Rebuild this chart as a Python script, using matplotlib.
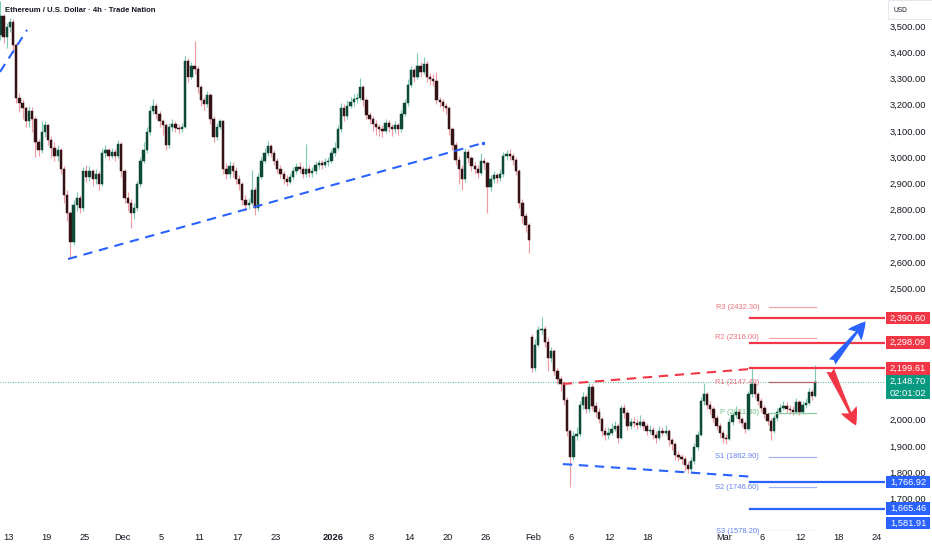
import matplotlib
matplotlib.use("Agg")
import matplotlib.pyplot as plt
from matplotlib.patches import Rectangle
from matplotlib.transforms import blended_transform_factory

plt.rcParams['font.family'] = ['Liberation Sans', 'DejaVu Sans']

# ---------------- data ----------------
title = "Ethereum / U.S. Dollar · 4h · Trade Nation"

# candles (8h-ish sampling of the 4h chart), open = previous close except at gaps
first_open = 3470
gap_index = 167          # weekend gap before Feb
gap_open = 2320

closes = [
    3540, 3460, 3500, 3520, 3430, 3230, 3210, 3190, 3140, 3180,
    3150, 3060, 3030, 3100, 3125, 3070, 3040, 3010, 3030, 2960,
    2860, 2790, 2680, 2820, 2850, 2810, 2950, 2930, 2950, 2920,
    2940, 2900, 3020, 3030, 3010, 3025, 3010, 3055, 2950, 2850,
    2830, 2790, 2810, 2900, 2990, 3030, 3100, 3180, 3200, 3170,
    3140, 3125, 3050, 3120, 3130, 3115, 3110, 3120, 3370, 3310,
    3350, 3340, 3270, 3220, 3205, 3240, 3150, 3080, 3120, 3140,
    2960, 2940, 2970, 2950, 2920, 2900, 2840, 2820, 2830, 2880,
    2810, 2930, 2990, 3020, 3045, 3020, 2990, 2960, 2940, 2920,
    2910, 2930, 2950, 2965, 2960, 2940, 2960, 2945, 2950, 2975,
    2980, 2975, 2985, 2990, 3020, 3040, 3110, 3190, 3160, 3200,
    3215, 3225, 3230, 3270, 3220, 3165, 3150, 3130, 3120, 3110,
    3105, 3135, 3120, 3110, 3125, 3110, 3170, 3210, 3280, 3335,
    3310, 3350, 3330, 3360, 3310, 3300, 3295, 3220, 3215, 3200,
    3190, 3110, 3050, 2995, 2960, 2920, 3025, 3000, 2970, 2960,
    2945, 2990, 2980, 2890, 2920, 2935, 2925, 2940, 3010, 3015,
    3010, 2995, 2950, 2830, 2780, 2745, 2690,
    2200, 2290, 2345,
    2350, 2300, 2240, 2265, 2190, 2160, 2140, 2080, 1960, 1860,
    1940, 1950, 2060, 2090, 2045, 2130, 2055, 2035, 2005, 1960,
    1945, 1955, 1970, 1980, 1935, 2050, 2030, 1980, 1995, 1990,
    1985, 1995, 1980, 1960, 1965, 1945, 1935, 1960, 1955, 1962,
    1925, 1910, 1870, 1860, 1855, 1830, 1815, 1845, 1900, 1945,
    2075, 2100, 2060, 2045, 2010, 1980, 1955, 1935, 1930, 1995,
    2020, 2035, 2005, 1990, 1970, 2100, 2140, 2100, 2075, 2050,
    2025, 2000, 1960, 2010, 2035, 2050, 2058, 2045, 2040, 2032,
    2070, 2035, 2060, 2068, 2110, 2095, 2148.70,
]
highs = [
    3600, 3550, 3515, 3535, 3530, 3440, 3250, 3225, 3200, 3200,
    3195, 3160, 3075, 3140, 3140, 3130, 3085, 3060, 3050, 3040,
    2970, 2880, 2800, 2840, 2870, 2860, 2965, 2975, 2970, 2960,
    2960, 2950, 3040, 3050, 3040, 3040, 3035, 3070, 3060, 2960,
    2870, 2845, 2830, 2915, 3005, 3060, 3120, 3200, 3225, 3210,
    3180, 3150, 3135, 3135, 3150, 3140, 3130, 3135, 3390, 3380,
    3365, 3445, 3350, 3280, 3235, 3255, 3250, 3160, 3135, 3150,
    3145, 2980, 2990, 2985, 2965, 2935, 2910, 2860, 2850, 2955,
    2890, 2945, 3005, 3040, 3065, 3055, 3030, 3000, 2975, 2950,
    2935, 2945, 2965, 2980, 2985, 2970, 3055, 2975, 2965, 2990,
    2995, 2995, 3000, 3005, 3035, 3060, 3125, 3210, 3205, 3220,
    3235, 3245, 3250, 3305, 3280, 3230, 3175, 3160, 3145, 3130,
    3125, 3150, 3145, 3130, 3140, 3135, 3185, 3225, 3300, 3350,
    3345, 3400, 3365, 3385, 3370, 3325, 3320, 3330, 3235, 3225,
    3210, 3200, 3120, 3060, 3010, 2975, 3040, 3035, 3010, 2985,
    2975, 3020, 3000, 2990, 2935, 2950, 2945, 2960, 3025, 3030,
    3035, 3020, 3005, 2960, 2845, 2790, 2755,
    2330, 2310, 2360,
    2395, 2360, 2320, 2280, 2275, 2200, 2170, 2150, 2090, 1970,
    1960, 1975, 2075, 2110, 2100, 2145, 2140, 2070, 2050, 2015,
    1975, 1975, 1990, 2000, 1990, 2060, 2065, 2040, 2010, 2015,
    2005, 2020, 2005, 1990, 1985, 1975, 1960, 1980, 1975, 1985,
    1970, 1935, 1920, 1885, 1875, 1865, 1845, 1860, 1915, 1960,
    2090, 2145, 2110, 2075, 2055, 2020, 1990, 1965, 1950, 2010,
    2035, 2055, 2045, 2015, 2000, 2115, 2200, 2150, 2110, 2085,
    2060, 2035, 2010, 2020, 2050, 2065, 2075, 2070, 2060, 2055,
    2085, 2080, 2075, 2085, 2125, 2120, 2212,
]
lows = [
    3450, 3440, 3420, 3480, 3400, 3210, 3175, 3150, 3120, 3120,
    3100, 3005, 3010, 3020, 3080, 3050, 3000, 2990, 2990, 2940,
    2830, 2760, 2620, 2670, 2800, 2790, 2800, 2910, 2915, 2895,
    2900, 2880, 2895, 3000, 2995, 3000, 2990, 3000, 2930, 2830,
    2800, 2735, 2770, 2800, 2890, 2980, 3020, 3090, 3170, 3150,
    3120, 3090, 3030, 3040, 3105, 3100, 3095, 3100, 3115, 3290,
    3300, 3320, 3250, 3200, 3185, 3195, 3130, 3060, 3070, 3110,
    2940, 2920, 2925, 2930, 2900, 2880, 2820, 2800, 2805, 2820,
    2785, 2800, 2920, 2980, 3010, 3005, 2975, 2945, 2925, 2900,
    2895, 2900, 2920, 2940, 2945, 2925, 2930, 2930, 2930, 2940,
    2960, 2960, 2965, 2970, 2980, 3010, 3030, 3100, 3140, 3150,
    3190, 3200, 3210, 3220, 3200, 3150, 3130, 3105, 3090, 3085,
    3080, 3095, 3100, 3085, 3095, 3090, 3100, 3160, 3200, 3270,
    3290, 3300, 3310, 3320, 3290, 3280, 3275, 3205, 3195, 3180,
    3170, 3090, 3030, 2975, 2900, 2880, 2910, 2980, 2950, 2940,
    2925, 2935, 2960, 2790, 2875, 2905, 2905, 2915, 2930, 2995,
    2995, 2975, 2935, 2810, 2755, 2720, 2640,
    2185, 2190, 2280,
    2330, 2280, 2190, 2225, 2175, 2140, 2115, 2060, 1940, 1747,
    1850, 1925, 1940, 2045, 2030, 2035, 2040, 2015, 1990, 1940,
    1925, 1930, 1945, 1960, 1915, 1930, 2010, 1965, 1970, 1975,
    1970, 1975, 1965, 1945, 1950, 1930, 1915, 1925, 1940, 1945,
    1905, 1890, 1850, 1845, 1835, 1810, 1800, 1805, 1835, 1890,
    1940, 2060, 2045, 2025, 1995, 1965, 1935, 1915, 1910, 1925,
    1985, 2010, 1990, 1975, 1955, 1965, 2090, 2085, 2060, 2035,
    2010, 1985, 1926, 1955, 2000, 2025, 2040, 2030, 2025, 2020,
    2025, 2020, 2025, 2050, 2060, 2080, 2090,
]

bars_per_day = 3
first_bar_day = -0.8      # trading-day index of first candle (Nov 13 = 0)

# time axis labels (trading-day index)
date_labels = ["13", "19", "25", "Dec", "5", "11", "17", "23", "2026", "8", "14",
               "20", "26", "Feb", "6", "12", "18", "Mar", "6", "12", "18", "24"]
date_days = [0, 4, 8, 12, 16, 20, 24, 28, 34, 38, 42, 46, 50, 55, 59, 63, 67,
             75, 79, 83, 87, 91]
bold_labels = ["2026"]

price_ticks = [3500, 3400, 3300, 3200, 3100, 3000, 2900, 2800, 2700, 2600,
               2500, 2000, 1900, 1800, 1700]

# drawn trendlines ((day, price), (day, price))
blue_dashed = [((-0.84, 3329), (2.0, 3489)),
               ((6.28, 2616), (49.75, 3058)),
               ((58.1, 1835), (78.2, 1786))]
red_dashed = [((58.1, 2140), (77.7, 2197))]

# horizontal key levels
red_levels = [2390.60, 2298.09, 2199.61]
blue_levels = [1766.92, 1665.46]
extra_blue_label = 1581.91
level_start_day = 77.7

# pivot points
pivot_names = ["R3", "R2", "R1", "P", "S1", "S2", "S3"]
pivot_values = [2432.30, 2316.00, 2147.40, 2031.30, 1862.90, 1746.60, 1578.20]
pivot_start_day = 79.7
pivot_end_day = 84.6

last_price = 2148.70
countdown = "02:01:02"

# scenario arrows ((day, price) tail, (day, price) head)
arrow_up = ((86.3, 2224), (89.8, 2378))
arrow_down = ((86.1, 2193), (88.8, 1982))

# ---------------- styling ----------------
W, H, DPI = 932, 550, 100
AX_R, AX_B = 885, 531          # plot area right / bottom in px
PX_PER_DAY = 9.55
X0_PX = 8                      # px of day 0
Y_REF_PX, Y_REF_P, PX_PER_USD = 27, 3500.0, 0.2625

RED = '#f23645'
BLUE = '#2962ff'
GREEN = '#089981'
TXT = '#131722'
FS = 6.7

fig = plt.figure(figsize=(W / DPI, H / DPI), dpi=DPI)
ax = fig.add_axes([0, (H - AX_B) / H, AX_R / W, AX_B / H])
ax.set_xlim(-X0_PX / PX_PER_DAY, (AX_R - X0_PX) / PX_PER_DAY)
ylo = Y_REF_P - (AX_B - Y_REF_PX) / PX_PER_USD
yhi = Y_REF_P + Y_REF_PX / PX_PER_USD
ax.set_ylim(ylo, yhi)
ax.axis('off')
usd_per_px = 1 / PX_PER_USD

# ---- candles ----
n = len(closes)
xs = [first_bar_day + i / bars_per_day for i in range(n)]
opens = []
for i in range(n):
    if i == 0:
        opens.append(first_open)
    elif i == gap_index:
        opens.append(gap_open)
    else:
        opens.append(closes[i - 1])

up = [c >= o for o, c in zip(opens, closes)]
wick_cols = ['#7fcbb4' if u else '#f29aa3' for u in up]
body_cols = ['#0d4a39' if u else '#351216' for u in up]
ax.vlines(xs, lows, highs, colors=wick_cols, linewidth=0.85, zorder=2)
bottoms = [min(o, c) for o, c in zip(opens, closes)]
heights = [max(abs(c - o), 3.0) for o, c in zip(opens, closes)]
ax.bar(xs, heights, bottom=bottoms, width=0.24, color=body_cols,
       edgecolor=body_cols, linewidth=0.35, zorder=3)

# ---- last price dotted line ----
ax.axhline(last_price, color=GREEN, lw=0.6, ls=(0, (1, 2)), zorder=1)

# ---- trendlines ----
for (d0, p0), (d1, p1) in blue_dashed:
    ax.plot([d0, d1], [p0, p1], color=BLUE, lw=1.5, dashes=(4.5, 3.2),
            solid_capstyle='butt', zorder=5)
for (d0, p0), (d1, p1) in red_dashed:
    ax.plot([d0, d1], [p0, p1], color=RED, lw=1.5, dashes=(4.5, 3.2), zorder=5)
ax.plot([blue_dashed[1][1][0]], [blue_dashed[1][1][1]], 'o', color=BLUE, ms=1.5, zorder=5)

xmax = ax.get_xlim()[1]
for lv in red_levels:
    ax.plot([level_start_day, xmax], [lv, lv], color=RED, lw=1.6, zorder=5)
for lv in blue_levels:
    ax.plot([level_start_day, xmax], [lv, lv], color=BLUE, lw=1.6, zorder=5)

# ---- pivots ----
piv_line_cols = {'R3': '#f5a3ab', 'R2': '#f5a3ab', 'R1': '#b06468', 'P': '#8fcf9f',
                 'S1': '#9fb3f5', 'S2': '#9fb3f5', 'S3': '#9fb3f5'}
piv_txt_cols = {'R3': '#ef6f7c', 'R2': '#ef6f7c', 'R1': '#ef6f7c', 'P': '#6fbf83',
                'S1': '#5f7ff0', 'S2': '#5f7ff0', 'S3': '#5f7ff0'}
lab_day = pivot_start_day - 10 / PX_PER_DAY
for name, val in zip(pivot_names, pivot_values):
    ax.plot([pivot_start_day, pivot_end_day], [val, val], color=piv_line_cols[name],
            lw=0.9, zorder=4)
    ax.text(lab_day, val, f"{name} ({val:.2f})", ha='right', va='center',
            fontsize=5.4, color=piv_txt_cols[name], zorder=1)

# ---- arrows ----
for (t, h), col in [(arrow_up, BLUE), (arrow_down, RED)]:
    ax.annotate('', xy=h, xytext=t,
                arrowprops=dict(arrowstyle='fancy,head_length=1.25,head_width=1.25,tail_width=0.6',
                                color=col, lw=0, shrinkA=0, shrinkB=0), zorder=6)

# ---- title ----
fig.text(5 / W, 1 - 11 / H, title, fontsize=5.6, fontweight='bold', color=TXT,
         ha='left', va='center',
         family=['Liberation Sans Narrow', 'Liberation Sans', 'DejaVu Sans'])

# ---- right price scale ----
blend = blended_transform_factory(ax.transAxes, ax.transData)
lab_x = 908 / AX_R
for p in price_ticks:
    ax.text(lab_x, p, f"{p:,.2f}", ha='center', va='center', fontsize=FS,
            color=TXT, transform=blend, clip_on=False)

box_l, box_w = 886 / AX_R, 44 / AX_R
box_h = 12.5 * usd_per_px

def price_box(p, txt, col, h=box_h):
    ax.add_patch(Rectangle((box_l, p - h / 2), box_w, h, transform=blend,
                           facecolor=col, edgecolor='none', clip_on=False, zorder=7))
    ax.text(box_l + box_w / 2, p, txt, ha='center', va='center', fontsize=FS,
            color='white', transform=blend, clip_on=False, zorder=8)

for lv in red_levels:
    price_box(lv, f"{lv:,.2f}", RED)
for lv in blue_levels:
    price_box(lv, f"{lv:,.2f}", BLUE)
clamped = max(extra_blue_label, ylo + 8 * usd_per_px)
price_box(clamped, f"{extra_blue_label:,.2f}", BLUE)
# last price + countdown box
gb_h = 24 * usd_per_px
gb_c = last_price - 5.5 * usd_per_px
ax.add_patch(Rectangle((box_l, gb_c - gb_h / 2), box_w, gb_h, transform=blend,
                       facecolor=GREEN, edgecolor='none', clip_on=False, zorder=7))
ax.text(box_l + box_w / 2, last_price, f"{last_price:,.2f}", ha='center', va='center',
        fontsize=FS, color='white', transform=blend, clip_on=False, zorder=8)
ax.text(box_l + box_w / 2, last_price - 11.5 * usd_per_px, countdown, ha='center',
        va='center', fontsize=FS, color='white', transform=blend, clip_on=False, zorder=8)

# USD tag
fig.text(893 / W, 1 - 11 / H, "USD", fontsize=4.8, color=TXT, ha='left', va='center')
fig.patches.append(Rectangle((888 / W, 1 - 19 / H), 44 / W, 19 / H, transform=fig.transFigure,
                             facecolor='none', edgecolor='#e0e3eb', lw=0.6))

# ---- time axis ----
blend_x = blended_transform_factory(ax.transData, fig.transFigure)
for lab, d in zip(date_labels, date_days):
    ax.text(d, 1 - 538 / H, lab, ha='center', va='center', fontsize=FS, color=TXT,
            fontweight='bold' if lab in bold_labels else 'normal',
            transform=blend_x, clip_on=False)

fig.savefig("out.png", dpi=DPI, facecolor='white')
